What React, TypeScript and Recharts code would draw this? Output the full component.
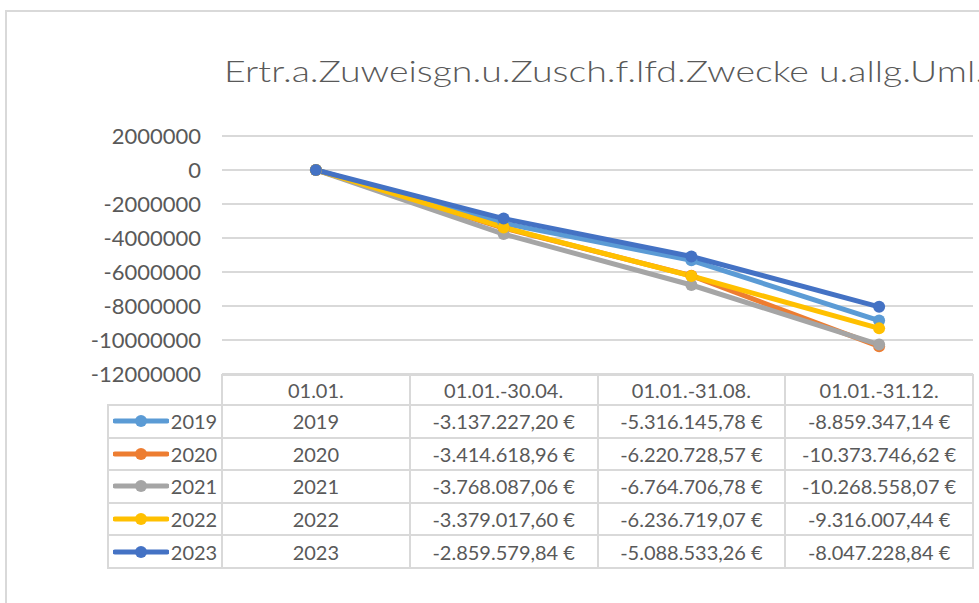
import React from "react";
import { LineChart, Line, XAxis, YAxis, CartesianGrid } from "recharts";

const title = "Ertr.a.Zuweisgn.u.Zusch.f.lfd.Zwecke u.allg.Uml.";
const categories = ["01.01.", "01.01.-30.04.", "01.01.-31.08.", "01.01.-31.12."];
const years = ["2019", "2020", "2021", "2022", "2023"];
const colors = ["#5B9BD5", "#ED7D31", "#A5A5A5", "#FFC000", "#4472C4"];
const s2019 = [2019, -3137227.2, -5316145.78, -8859347.14];
const s2020 = [2020, -3414618.96, -6220728.57, -10373746.62];
const s2021 = [2021, -3768087.06, -6764706.78, -10268558.07];
const s2022 = [2022, -3379017.6, -6236719.07, -9316007.44];
const s2023 = [2023, -2859579.84, -5088533.26, -8047228.84];
const seriesValues = [s2019, s2020, s2021, s2022, s2023];
const yTicks = [2000000, 0, -2000000, -4000000, -6000000, -8000000, -10000000, -12000000];

const data = categories.map((c, i) => {
  const row: Record<string, any> = { cat: c };
  years.forEach((y, k) => (row[y] = seriesValues[k][i]));
  return row;
});

function fmtEuro(v: number): string {
  const neg = v < 0;
  const a = Math.abs(v);
  const intPart = Math.floor(a + 1e-9);
  const cents = Math.round((a - intPart) * 100);
  const intStr = String(intPart).replace(/\B(?=(\d{3})+(?!\d))/g, ".");
  return (neg ? "-" : "") + intStr + "," + String(cents).padStart(2, "0") + "\u202F€";
}
function fmtCell(v: number, i: number): string {
  return i === 0 ? String(v) : fmtEuro(v);
}

const W = 979;
const H = 603;
const FONT = "Lato, 'Open Sans', sans-serif";
const GRID = "#D9D9D9";
const TEXT = "#595959";
const PLOT_L = 222;
const PLOT_R = 973;
const PLOT_T = 136;
const PLOT_B = 374;
const LEG_L = 108;
const HEAD_T = 375;
const HEAD_H = 30;
const ROW_H = 32.6;

export default function App() {
  const colW = (PLOT_R - PLOT_L) / categories.length;
  const cellStyle = (x: number, y: number, w: number, h: number): React.CSSProperties => ({
    position: "absolute",
    left: x,
    top: y,
    width: w,
    height: h,
    boxSizing: "border-box",
    border: `2px solid ${GRID}`,
    marginLeft: -1,
    marginTop: -1,
    display: "flex",
    alignItems: "center",
    justifyContent: "center",
    fontFamily: FONT,
    fontSize: 20,
    color: TEXT,
    whiteSpace: "nowrap",
  });
  return (
    <div
      style={{
        position: "absolute",
        left: 0,
        top: 0,
        width: W,
        height: H,
        overflow: "hidden",
        background: "#fff",
      }}
    >
      <div
        style={{
          position: "absolute",
          left: 5,
          top: 10,
          width: W,
          height: H,
          borderLeft: `2px solid ${GRID}`,
          borderTop: `2px solid ${GRID}`,
          boxSizing: "border-box",
        }}
      />
      <LineChart
        width={W}
        height={H}
        data={data}
        margin={{ top: PLOT_T, right: W - PLOT_R, bottom: H - PLOT_B, left: 0 }}
        style={{ position: "absolute", left: 0, top: 0 }}
      >
        <text
          x={PLOT_L + 2}
          y={82}
          fontFamily={FONT}
          fontSize={29}
          fontWeight={300}
          fill={TEXT}
          textLength={760}
          lengthAdjust="spacingAndGlyphs"
        >
          {title}
        </text>
        <CartesianGrid vertical={false} stroke={GRID} strokeWidth={2} />
        <XAxis dataKey="cat" hide padding={{ left: colW / 2, right: colW / 2 }} />
        <YAxis
          width={PLOT_L}
          domain={[-12000000, 2000000]}
          ticks={yTicks}
          interval={0}
          axisLine={false}
          tickLine={false}
          tickMargin={15}
          tick={{ fontFamily: FONT, fontSize: 22, fill: TEXT }}
        />
        {years.map((y, k) => (
          <Line
            key={y}
            dataKey={y}
            stroke={colors[k]}
            strokeWidth={5}
            dot={{ r: 6, fill: colors[k], stroke: colors[k], strokeWidth: 0 }}
            isAnimationActive={false}
          />
        ))}
      </LineChart>
      {categories.map((c, i) => (
        <div key={c} style={cellStyle(PLOT_L + i * colW, HEAD_T, colW + 2, HEAD_H + 2)}>
          {c}
        </div>
      ))}
      {years.map((y, k) => (
        <React.Fragment key={y}>
          <div style={cellStyle(LEG_L, HEAD_T + HEAD_H + k * ROW_H, PLOT_L - LEG_L + 2, ROW_H + 2)}>
            <svg width={56} height={14} style={{ marginRight: 2 }}>
              <line x1={2} y1={7} x2={54} y2={7} stroke={colors[k]} strokeWidth={5} strokeLinecap="round" />
              <circle cx={28} cy={7} r={6} fill={colors[k]} />
            </svg>
            <span>{y}</span>
          </div>
          {seriesValues[k].map((v, i) => (
            <div
              key={i}
              style={cellStyle(PLOT_L + i * colW, HEAD_T + HEAD_H + k * ROW_H, colW + 2, ROW_H + 2)}
            >
              {fmtCell(v, i)}
            </div>
          ))}
        </React.Fragment>
      ))}
    </div>
  );
}
